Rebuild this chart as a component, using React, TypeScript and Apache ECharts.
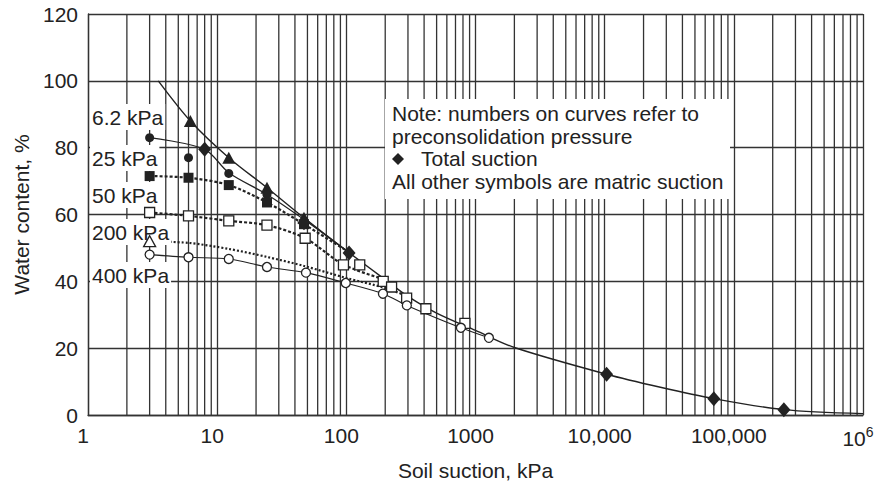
import React, { useEffect, useRef } from 'react';
import * as echarts from 'echarts';

const FONT = '"Liberation Sans", Arial, Helvetica, sans-serif';
const INK = '#222';
const GRIDC = '#333';

// axis structure
const xTickLabels = ['1', '10', '100', '1000', '10,000', '100,000', '10^6'];
const decades = [1, 10, 100, 1000, 10000, 100000];
const multipliers = [2, 3, 4, 5, 6, 7, 8, 9];
const yTicks = [0, 20, 40, 60, 80, 100, 120];

// 6.2 kPa — filled triangles (solid line, continues into the common curve)
const tri62X = [6.2, 12.3, 24.3, 47];
const tri62Y = [88, 77, 68, 59];
const line62X = [3.5, 6.2, 12.3, 24.3, 47];
const line62Y = [100, 88, 77, 68, 59];

// common (virgin) curve
const mainX = [100, 200, 300, 500, 1000, 2000, 10350, 27000, 70000, 244000, 1000000];
const mainY = [49.2, 40.5, 35.5, 30.5, 25.3, 20.2, 12.2, 8.3, 4.9, 1.6, 0.4];

// 25 kPa — filled circles
const circ25X = [3, 6, 12.3, 24.3, 47];
const circ25Y = [83, 77, 72.3, 66, 58];
const line25X = [3, 8, 12.3, 24.3, 47, 100];
const line25Y = [83, 79.5, 72.5, 66, 58.5, 49.2];

// 50 kPa — filled squares (dashed)
const sq50X = [3, 6, 12.3, 24.3, 47];
const sq50Y = [71.5, 71, 68.8, 63.6, 57.1];
const line50X = [3, 6, 12.3, 24.3, 47, 100];
const line50Y = [71.5, 71, 68.8, 63.6, 57.1, 49.2];

// 200 kPa — open squares (dashed)
const sq200X = [3, 6, 12.3, 24.3, 48, 95, 127, 193, 224, 293, 413, 828];
const sq200Y = [60.6, 59.6, 58.1, 56.8, 52.9, 44.9, 44.9, 40, 38.3, 35, 31.8, 27.4];
const line200X = [3, 6, 12.3, 24.3, 48, 95, 200];
const line200Y = [60.6, 59.6, 58.1, 56.8, 52.9, 45, 40.5];

// 400 kPa — open triangle (dotted)
const triOpenX = [3];
const triOpenY = [52];
const lineTriOpenX = [3, 6, 12.3, 24.3, 47, 100, 200, 300];
const lineTriOpenY = [52, 51.5, 49.7, 47.3, 44.6, 41, 38, 35.5];

// open circles (solid thin)
const circOpenX = [3, 6, 12.3, 24.3, 48.7, 99, 192, 294, 771, 1270];
const circOpenY = [48, 47.2, 46.7, 44.3, 42.6, 39.5, 36.3, 32.8, 26.1, 23.1];

// total suction — filled diamonds
const diaX = [8, 47, 105, 10350, 70000, 244000];
const diaY = [79.5, 57.5, 48.5, 12.2, 4.9, 1.6];

const curveLabels = ['6.2 kPa', '25 kPa', '50 kPa', '200 kPa', '400 kPa'];
const curveLabelY = [117, 158, 195, 232, 275];
const noteLines = ['Note: numbers on curves refer to', 'preconsolidation pressure', 'Total suction', 'All other symbols are matric suction'];

const pts = (xs: number[], ys: number[]) => xs.map((x, i) => [x, ys[i]]);

export default function App() {
  const ref = useRef<HTMLDivElement>(null);
  useEffect(() => {
    if (!ref.current) return;
    const chart = echarts.init(ref.current, null, { renderer: 'svg' });

    const gridLines: number[][] = [];
    decades.forEach((d) => multipliers.forEach((m) => gridLines.push([d * m, 0])));

    const lineSeries = (name: string, data: number[][], type: any, width: number) => ({
      name, type: 'line', data, smooth: 0.3, symbol: 'none', z: 3,
      lineStyle: { color: INK, width, type }, silent: true,
    });
    const scatter = (name: string, data: number[][], symbol: string, size: any, filled: boolean) => ({
      name, type: 'scatter', data, symbol, symbolSize: size, z: 5, silent: true,
      itemStyle: filled ? { color: INK, opacity: 1 } : { color: '#fff', borderColor: INK, borderWidth: 1.3, opacity: 1 },
    });

    const option: any = {
      animation: false,
      textStyle: { fontFamily: FONT },
      grid: { left: 88, top: 14, right: 17, bottom: 69, containLabel: false },
      xAxis: {
        type: 'log', logBase: 10, min: 1, max: 1000000,
        name: 'Soil suction, kPa', nameLocation: 'middle', nameGap: 45,
        nameTextStyle: { fontSize: 21, color: INK, fontFamily: FONT },
        axisLine: { show: true, onZero: false, lineStyle: { color: GRIDC, width: 1.3 } },
        axisTick: { show: false },
        splitLine: { show: true, lineStyle: { color: GRIDC, width: 1.3 } },
        axisLabel: {
          show: true, margin: 10, fontSize: 21, color: INK, fontFamily: FONT, padding: [0, 10, 0, 0],
          showMinLabel: true, showMaxLabel: true,
          formatter: (v: number) => {
            const i = Math.round(Math.log10(v));
            if (i === 6) return '{b|10}{s|6}';
            return '{b|' + xTickLabels[i] + '}';
          },
          rich: {
            b: { fontSize: 21, color: INK, fontFamily: FONT },
            s: { fontSize: 14, color: INK, fontFamily: FONT, padding: [0, 0, 12, 0] },
          },
        },
      },
      yAxis: {
        type: 'value', min: 0, max: 120, interval: 20,
        name: 'Water content, %', nameLocation: 'middle', nameGap: 42, nameRotate: 90,
        nameTextStyle: { fontSize: 21, color: INK, fontFamily: FONT },
        axisLine: { show: true, lineStyle: { color: GRIDC, width: 1.3 } },
        axisTick: { show: false },
        splitLine: { show: true, lineStyle: { color: GRIDC, width: 1.3 } },
        axisLabel: { margin: 10, fontSize: 21, color: INK, fontFamily: FONT,
          formatter: (v: number) => (yTicks.indexOf(v) >= 0 ? String(v) : '') },
      },
      series: [
        {
          type: 'custom', name: 'grid', z: 1, silent: true, data: gridLines,
          renderItem: (_p: any, api: any) => {
            const v = api.value(0);
            const a = api.coord([v, 0]);
            const b = api.coord([v, 120]);
            return { type: 'line', shape: { x1: a[0], y1: a[1], x2: b[0], y2: b[1] }, style: { stroke: GRIDC, lineWidth: 1.3 } };
          },
        },
        lineSeries('curve', [...pts(line62X, line62Y), ...pts(mainX, mainY)], 'solid', 1.4),
        lineSeries('25 kPa line', pts(line25X, line25Y), 'solid', 1.2),
        lineSeries('50 kPa line', pts(line50X, line50Y), [3, 2], 2.2),
        lineSeries('200 kPa line', pts(line200X, line200Y), [3, 2], 2.2),
        lineSeries('400 kPa line', pts(lineTriOpenX, lineTriOpenY), [2, 2], 2.2),
        lineSeries('open circles line', pts(circOpenX, circOpenY), 'solid', 1.1),
        scatter('6.2 kPa', pts(tri62X, tri62Y), 'triangle', [13, 12], true),
        scatter('25 kPa', pts(circ25X, circ25Y), 'circle', 9, true),
        scatter('50 kPa', pts(sq50X, sq50Y), 'rect', 10, true),
        scatter('200 kPa', pts(sq200X, sq200Y), 'rect', 10, false),
        scatter('400 kPa', pts(triOpenX, triOpenY), 'triangle', [12, 11], false),
        scatter('open circles', pts(circOpenX, circOpenY), 'circle', 9, false),
        scatter('Total suction', pts(diaX, diaY), 'diamond', [13, 15], true),
      ],
      graphic: [
        ...curveLabels.map((t, i) => ({
          type: 'text', z: 4, x: 90, y: curveLabelY[i],
          style: {
            text: t, fontSize: 21, fontFamily: FONT, fill: INK,
            verticalAlign: 'middle', align: 'left',
            backgroundColor: '#fff', padding: [3, 2, 2, 2],
          },
        })),
        { type: 'rect', z: 100, shape: { x: 385, y: 99, width: 345, height: 100 }, style: { fill: '#fff' } },
        { type: 'text', z: 101, x: 392, y: 113, style: { text: noteLines[0], fontSize: 21, fontFamily: FONT, fill: INK, verticalAlign: 'middle' } },
        { type: 'text', z: 101, x: 392, y: 136, style: { text: noteLines[1], fontSize: 21, fontFamily: FONT, fill: INK, verticalAlign: 'middle' } },
        { type: 'polygon', z: 101, shape: { points: [[398, 153], [404, 159], [398, 165], [392, 159]] }, style: { fill: INK } },
        { type: 'text', z: 101, x: 421, y: 158, style: { text: noteLines[2], fontSize: 21, fontFamily: FONT, fill: INK, verticalAlign: 'middle' } },
        { type: 'text', z: 101, x: 392, y: 181, style: { text: noteLines[3], fontSize: 21, fontFamily: FONT, fill: INK, verticalAlign: 'middle' } },
      ],
    };
    chart.setOption(option);
    return () => chart.dispose();
  }, []);
  return <div ref={ref} style={{ position: 'fixed', left: 0, top: 0, width: 880, height: 486, background: '#fff' }} />;
}
